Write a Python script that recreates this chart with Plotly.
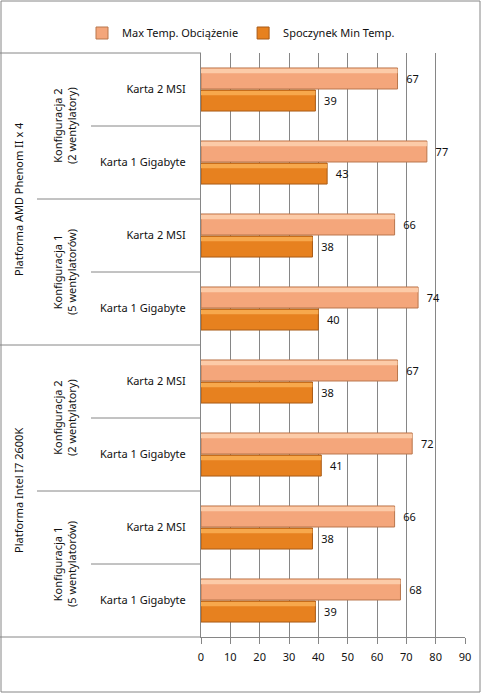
import plotly.graph_objects as go

# ---- data ----
platforms = ["Platforma AMD Phenom II x 4", "Platforma Intel I7 2600K"]
configs = ["Konfiguracja 2<br>(2 wentylatory)", "Konfiguracja 1<br>(5 wentylatorów)",
           "Konfiguracja 2<br>(2 wentylatory)", "Konfiguracja 1<br>(5 wentylatorów)"]
cards = ["Karta 2 MSI", "Karta 1 Gigabyte", "Karta 2 MSI", "Karta 1 Gigabyte",
         "Karta 2 MSI", "Karta 1 Gigabyte", "Karta 2 MSI", "Karta 1 Gigabyte"]
max_temp = [67, 77, 66, 74, 67, 72, 66, 68]
min_temp = [39, 43, 38, 40, 38, 41, 38, 39]
series_names = ["Max Temp. Obciążenie", "Spoczynek Min Temp."]
x_ticks = [0, 10, 20, 30, 40, 50, 60, 70, 80, 90]

# ---- layout geometry (pixels) ----
W, H = 482, 695
L, R, T, B = 201, 17, 53, 58
PW, PH = W - L - R, H - T - B
FONT = "Noto Sans"
GRID = "#868686"
n = len(cards)
pos = list(range(n))


def px_x(px):
    return (px - L) / PW


def px_y(py):
    return (H - B - py) / PH


def idx_y(boundary):
    # boundary in category units (-0.5 .. n-0.5), reversed axis
    return 1 - (boundary + 0.5) / n


fig = go.Figure()

bw = 0.288
specs = [
    (series_names[0], max_temp, "#F4A67B", "#B9764C", "#FCCBA8", -0.295),
    (series_names[1], min_temp, "#E7811F", "#A95B17", "#F7A84C", 0.007),
]
for name, vals, col, lcol, hcol, off in specs:
    fig.add_trace(go.Bar(
        name=name, y=pos, x=vals, orientation="h",
        width=bw, offset=off,
        marker=dict(color=col, line=dict(color=lcol, width=1)),
        text=vals, texttemplate="  %{x}", textposition="outside",
        textfont=dict(family=FONT, size=11, color="#111111"),
        cliponaxis=False,
    ))
for name, vals, col, lcol, hcol, off in specs:
    fig.add_trace(go.Bar(
        y=pos, x=vals, orientation="h", showlegend=False, hoverinfo="skip",
        width=0.06, offset=off + 0.012,
        marker=dict(color=hcol, line=dict(width=0)),
    ))

shapes = []
# outer chart border
shapes.append(dict(type="rect", xref="paper", yref="paper",
                   x0=px_x(1), x1=px_x(480), y0=px_y(692), y1=px_y(1),
                   line=dict(color=GRID, width=1), layer="below"))
# level 1 separators
for b in [-0.5, 3.5, 7.5]:
    shapes.append(dict(type="line", xref="paper", yref="paper",
                       x0=px_x(0), x1=0, y0=idx_y(b), y1=idx_y(b),
                       line=dict(color=GRID, width=1)))
# level 2 separators
for b in [1.5, 5.5]:
    shapes.append(dict(type="line", xref="paper", yref="paper",
                       x0=px_x(37), x1=0, y0=idx_y(b), y1=idx_y(b),
                       line=dict(color=GRID, width=1)))
# level 3 separators
for b in [0.5, 2.5, 4.5, 6.5]:
    shapes.append(dict(type="line", xref="paper", yref="paper",
                       x0=px_x(91), x1=0, y0=idx_y(b), y1=idx_y(b),
                       line=dict(color=GRID, width=1)))

annotations = []
for i, p in enumerate(platforms):
    annotations.append(dict(text=p, xref="paper", yref="paper", x=px_x(18),
                            y=idx_y(4 * i + 1.5), textangle=-90, showarrow=False,
                            xanchor="center", yanchor="middle",
                            font=dict(family=FONT, size=11, color="#111111")))
for i, c in enumerate(configs):
    annotations.append(dict(text=c, xref="paper", yref="paper", x=px_x(64),
                            y=idx_y(2 * i + 0.5), textangle=-90, showarrow=False,
                            xanchor="center", yanchor="middle",
                            font=dict(family=FONT, size=11, color="#111111")))

fig.update_layout(
    width=W, height=H,
    margin=dict(l=L, r=R, t=T, b=B),
    paper_bgcolor="white", plot_bgcolor="white",
    barmode="overlay",
    font=dict(family=FONT, size=11, color="#111111"),
    legend=dict(orientation="h", xref="paper", yref="paper",
                x=px_x(82), y=px_y(33), xanchor="left", yanchor="middle",
                font=dict(family=FONT, size=11), itemwidth=30,
                traceorder="normal", bgcolor="rgba(0,0,0,0)"),
    xaxis=dict(range=[0, 90], tickvals=x_ticks, showgrid=True, gridcolor=GRID,
               gridwidth=1, zeroline=False, showline=True, linecolor=GRID,
               ticks="outside", ticklen=6, tickcolor=GRID,
               tickfont=dict(family=FONT, size=11), ticklabelstandoff=4),
    yaxis=dict(range=[n - 0.5, -0.5], tickvals=pos, ticktext=cards,
               showgrid=False, zeroline=False, showline=True, linecolor=GRID,
               ticks="", tickfont=dict(family=FONT, size=11),
               ticklabelstandoff=12),
    shapes=shapes, annotations=annotations,
    showlegend=True,
)

fig.write_html("out.html")
